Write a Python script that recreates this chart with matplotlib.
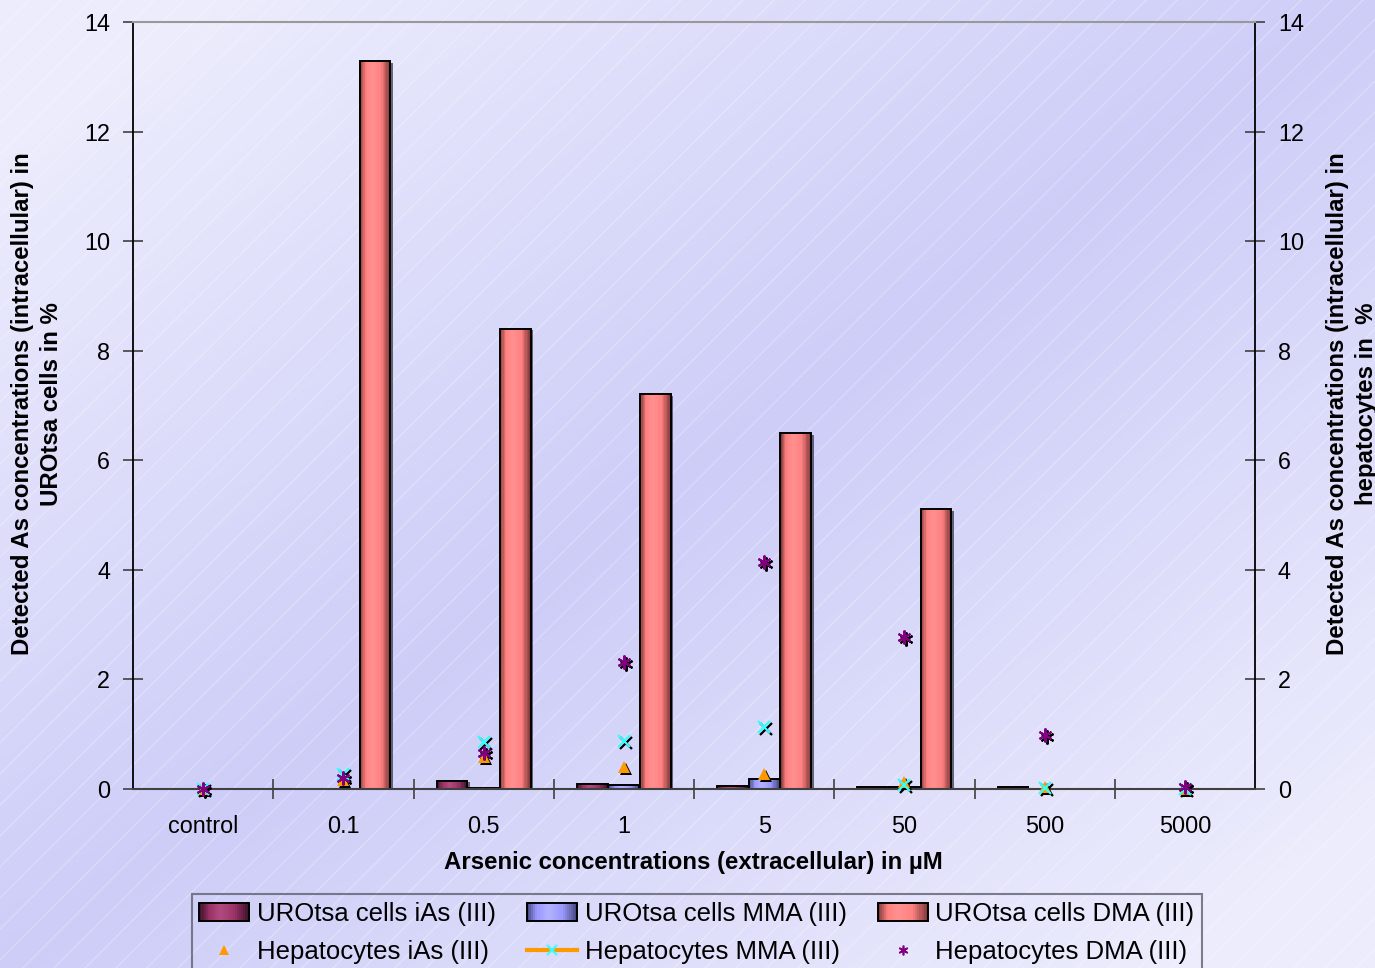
import numpy as np
import matplotlib
matplotlib.use("Agg")
import matplotlib.pyplot as plt
from matplotlib.colors import LinearSegmentedColormap
from matplotlib.lines import Line2D
from matplotlib.patches import Patch, Rectangle
from matplotlib.legend_handler import HandlerBase
import matplotlib.patheffects as pe
import matplotlib.transforms as mtransforms

plt.rcParams['font.family'] = ['Liberation Sans', 'DejaVu Sans']

# data
categories = ['control', '0.1', '0.5', '1', '5', '50', '500', '5000']
uro_ias = [0, 0, 0.15, 0.09, 0.05, 0.03, 0.03, 0]
uro_mma = [0, 0, 0.02, 0.08, 0.19, 0.04, 0, 0]
uro_dma = [0, 13.28, 8.40, 7.21, 6.50, 5.11, 0, 0]
hep_ias = [0, 0.16, 0.59, 0.41, 0.27, 0.12, 0.03, 0]
hep_mma = [0, 0.27, 0.86, 0.88, 1.14, 0.08, 0.02, 0]
hep_dma = [0, 0.20, 0.66, 2.32, 4.15, 2.78, 0.98, 0.03]

bar_labels = ['UROtsa cells iAs (III)', 'UROtsa cells MMA (III)', 'UROtsa cells DMA (III)']
hep_labels = ['Hepatocytes iAs (III)', 'Hepatocytes MMA (III)', 'Hepatocytes DMA (III)']

# (dark edge, base, highlight) colours for the cylinder-ish shading
bar_colors = [('#3d1028', '#993366', '#b04a80'),
              ('#45457a', '#9999ff', '#b3b3ff'),
              ('#7a3535', '#ff8080', '#ff9090')]
cmaps = [LinearSegmentedColormap.from_list('cyl%d' % i, [(0, dk), (0.2, b), (0.42, hi), (0.7, b), (1, dk)])
         for i, (dk, b, hi) in enumerate(bar_colors)]
NSTRIP = 24
strip_pos = (np.arange(NSTRIP) + 0.5) / NSTRIP

fig = plt.figure(figsize=(13.75, 9.68), dpi=100)

# background: diagonal two-tone gradient with faint white hatching
bg = fig.add_axes([0, 0, 1, 1], zorder=-10)
u = np.linspace(0, 1, 300)
U, V = np.meshgrid(u, u)
t = np.clip(np.abs(U + V - 1) * 1.2, 0, 1)
dark = np.array([205, 205, 248]) / 255
light = np.array([236, 236, 253]) / 255
img = dark[None, None, :] * (1 - t[..., None]) + light[None, None, :] * t[..., None]
bg.imshow(img, extent=[0, 1375, 968, 0], aspect='auto')
for x0 in range(-1000, 1400, 31):
    bg.add_line(Line2D([x0, x0 + 968], [968, 0], color='white', lw=0.7, alpha=0.35))
bg.set_xlim(0, 1375)
bg.set_ylim(968, 0)
bg.axis('off')

ax = fig.add_axes([133 / 1375, 1 - 789 / 968, (1255 - 133) / 1375, (789 - 22) / 968])
ax.set_facecolor('none')

x = np.arange(len(categories))
w = 0.22
offsets = [-w - 0.005, 0, w + 0.005]
series = [uro_ias, uro_mma, uro_dma]

for vals, off, cmap in zip(series, offsets, cmaps):
    vals = np.array(vals, dtype=float)
    mask = vals > 0
    xs, hs = x[mask] + off, vals[mask]
    # drop shadow
    ax.bar(xs, hs, w, color='#303040', edgecolor='none', zorder=2,
           path_effects=[pe.SimplePatchShadow(offset=(1.8, -1.2), shadow_rgbFace='#303040', alpha=0.7)])
    # cylinder shading from thin vertical strips
    sw = w / NSTRIP
    for k, p in enumerate(strip_pos):
        ax.bar(xs - w / 2 + p * w, hs, sw * 1.05, color=cmap(p), edgecolor='none', lw=0, zorder=2.1)
    ax.bar(xs, hs, w, facecolor='none', edgecolor='black', lw=1.4, zorder=2.2)

# hepatocyte markers with a small black drop shadow
shadow = mtransforms.offset_copy(ax.transData, fig=fig, x=2, y=-2, units='dots')
mk = [dict(marker='^', ms=8, color='#ff9900', mew=0),
      dict(marker='x', ms=8, color='#33ffff', mew=1.6),
      dict(marker=(6, 2, 0), ms=10, color='#800080', mew=1.5)]
for vals, m in zip([hep_ias, hep_mma, hep_dma], mk):
    ax.plot(x, vals, ls='none', marker=m['marker'], ms=m['ms'], color='black', mew=m['mew'],
            transform=shadow, zorder=4, clip_on=False)
    ax.plot(x, vals, ls='none', marker=m['marker'], ms=m['ms'], color=m['color'], mew=m['mew'],
            zorder=5, clip_on=False)

ax.set_xlim(-0.5, len(categories) - 0.5)
ax.set_ylim(0, 14)
ax.set_yticks(np.arange(0, 15, 2))
ax.set_xticks(np.arange(0.5, len(categories) - 0.5, 1))
ax.set_xticks(x, minor=True)
ax.set_xticklabels(categories, minor=True)
ax.tick_params(axis='x', which='major', direction='inout', length=14, width=1.2, color='#404040',
               labelbottom=False)
ax.tick_params(axis='x', which='minor', length=0, pad=18.5, labelsize=16.8)
ax.tick_params(axis='y', direction='inout', length=14, width=1.2, color='#404040', pad=9.5,
               labelsize=16.8, right=True, labelright=True)

for s in ['left', 'right']:
    ax.spines[s].set_color('black')
    ax.spines[s].set_linewidth(1.3)
ax.spines['bottom'].set_color('#404040')
ax.spines['bottom'].set_linewidth(1.5)
ax.spines['top'].set_color('#999999')
ax.spines['top'].set_linewidth(1.5)

fig.text(693 / 1375, 1 - 863 / 968, 'Arsenic concentrations (extracellular) in µM',
         ha='center', va='center', fontsize=17.3, fontweight='bold')
fig.text(37 / 1375, 1 - 404 / 968,
         'Detected As concentrations (intracellular) in\nUROtsa cells in %',
         ha='center', va='center', rotation=90, fontsize=17.3, fontweight='bold',
         multialignment='center', linespacing=1.3)
fig.text(1352 / 1375, 1 - 404 / 968,
         'Detected As concentrations (intracellular) in\nhepatocytes in  %',
         ha='center', va='center', rotation=90, fontsize=17.3, fontweight='bold',
         multialignment='center', linespacing=1.3)


class GradientBarHandler(HandlerBase):
    def __init__(self, cmap):
        super().__init__()
        self.cmap = cmap

    def create_artists(self, legend, orig_handle, xdescent, ydescent, width, height, fontsize, trans):
        arts = []
        for p in strip_pos:
            arts.append(Rectangle((-xdescent + (p - 0.5 / NSTRIP) * width, -ydescent),
                                  width / NSTRIP * 1.05, height, facecolor=self.cmap(p),
                                  edgecolor='none', lw=0, transform=trans))
        arts.append(Rectangle((-xdescent, -ydescent), width, height, facecolor='none',
                              edgecolor='black', lw=1.4, transform=trans))
        return arts


# legend (column-major order for ncol=3)
bar_handles = [Patch(facecolor=c[1], edgecolor='black', lw=1.4) for c in bar_colors]
hep_handles = [Line2D([], [], ls='none', marker='^', ms=7, color='#ff9900', mew=0),
               Line2D([], [], color='#ff9900', lw=3, marker='x', ms=7, mec='#33ffff', mew=1.5),
               Line2D([], [], ls='none', marker=(6, 2, 0), ms=7, color='#800080', mew=1.2)]
handles, labels = [], []
for i in range(3):
    handles += [bar_handles[i], hep_handles[i]]
    labels += [bar_labels[i], hep_labels[i]]
leg = fig.legend(handles, labels, ncol=3, loc='upper center', bbox_to_anchor=(697 / 1375, 1 - 894 / 968),
                 fontsize=18.5, frameon=True, fancybox=False, handlelength=1.95, handleheight=0.7,
                 handletextpad=0.3, columnspacing=1.2, labelspacing=0.55, borderpad=0.3,
                 borderaxespad=0,
                 handler_map={bar_handles[i]: GradientBarHandler(cmaps[i]) for i in range(3)})
leg.get_frame().set_facecolor('none')
leg.get_frame().set_edgecolor('#606070')
leg.get_frame().set_linewidth(1.5)

fig.savefig('out.png', dpi=100)
